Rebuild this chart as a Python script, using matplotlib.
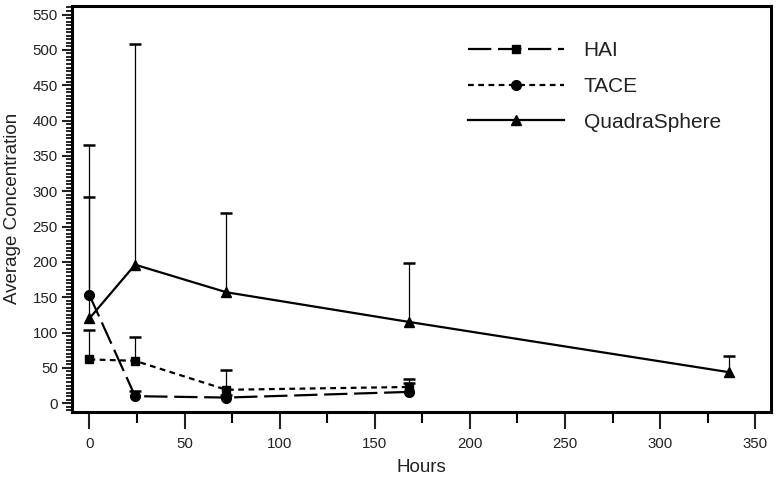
import matplotlib
matplotlib.use("Agg")
import matplotlib.pyplot as plt
import matplotlib.ticker as ticker
from matplotlib.lines import Line2D

plt.rcParams['font.family'] = ['Liberation Sans', 'DejaVu Sans']

# sampling times (hours)
hours_short = [0, 24, 72, 168]
hours_long = [0, 24, 72, 168, 336]

# mean values and upper error-bar ends
hai_mean = [62, 60, 19, 23]
hai_upper = [103, 94, 47, 34]
tace_mean = [153, 10, 8, 16]
tace_upper = [365, 17, 11, 29]
quadra_mean = [120, 196, 157, 115, 44]
quadra_upper = [292, 508, 269, 199, 67]

x_ticks = [0, 50, 100, 150, 200, 250, 300, 350]
y_ticks = [0, 50, 100, 150, 200, 250, 300, 350, 400, 450, 500, 550]

long_dash = (10.5, 3.0)
short_dash = (2.6, 2.0)

fig = plt.figure(figsize=(7.78, 4.78), dpi=100)
ax = fig.add_axes([0.0922, 0.1387, 0.8982, 0.8487])


def draw_series(x, mean, upper, marker, ms, dashes):
    yerr = [[0] * len(mean), [u - m for u, m in zip(upper, mean)]]
    _, caps, bars = ax.errorbar(x, mean, yerr=yerr, fmt='none', ecolor='black',
                                elinewidth=0.9, capsize=4.5, capthick=1.8, zorder=2)
    caps[0].set_visible(False)  # one-sided bars only
    line, = ax.plot(x, mean, color='black', linewidth=1.6, marker=marker,
                    markersize=ms, zorder=3)
    if dashes is not None:
        line.set_dashes(dashes)


# squares sit on the short-dashed line and circles on the long-dashed one in the original
draw_series(hours_short, hai_mean, hai_upper, 's', 6, short_dash)
draw_series(hours_short, tace_mean, tace_upper, 'o', 7, long_dash)
draw_series(hours_long, quadra_mean, quadra_upper, '^', 7, None)

ax.set_xlim(-9.3, 358)
ax.set_ylim(-12, 562)
ax.set_xticks(x_ticks)
ax.set_yticks(y_ticks)
ax.xaxis.set_minor_locator(ticker.MultipleLocator(25))
ax.yaxis.set_minor_locator(ticker.MultipleLocator(5))
ax.tick_params(axis='x', which='major', length=12, width=1.5, labelsize=10.8,
               colors='#222222', pad=6)
ax.tick_params(axis='x', which='minor', length=8, width=1.5)
ax.tick_params(axis='y', which='major', length=7, width=1.5, labelsize=10.8,
               colors='#222222', pad=3)
ax.tick_params(axis='y', which='minor', length=4, width=1.2)

for spine in ax.spines.values():
    spine.set_linewidth(2.2)
    spine.set_edgecolor('black')

ax.set_xlabel("Hours", fontsize=13.5, color='#222222', labelpad=6)
ax.set_ylabel("Average Concentration", fontsize=13.5, color='#222222', labelpad=8)

handles = [
    Line2D([], [], color='black', linewidth=1.6, marker='s', markersize=6,
           dashes=long_dash),
    Line2D([], [], color='black', linewidth=1.6, marker='o', markersize=7,
           dashes=short_dash),
    Line2D([], [], color='black', linewidth=1.6, marker='^', markersize=7),
]
ax.legend(handles, ["HAI", "TACE", "QuadraSphere"], loc='upper left',
          bbox_to_anchor=(468 / 778, 1 - 41 / 478), bbox_transform=fig.transFigure,
          frameon=False, fontsize=15, handlelength=4.6, handletextpad=0.95,
          labelspacing=0.81, borderpad=0, borderaxespad=0, labelcolor='#222222')

fig.savefig("out.png", dpi=100)
